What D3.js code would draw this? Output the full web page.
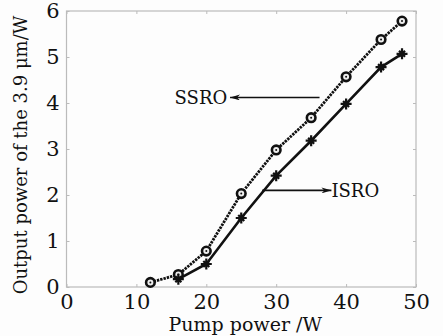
<!DOCTYPE html>
<html>
<head>
<meta charset="utf-8">
<script src="https://cdn.jsdelivr.net/npm/d3@7"></script>
<style>
  body { margin: 0; background: #fdfdfd; }
  text { font-family: "DejaVu Serif", "Liberation Serif", serif; fill: #111; }
</style>
</head>
<body>
<script>
  // data
  var ssroX = [12, 16, 20, 25, 30, 35, 40, 45, 48];
  var ssroY = [0.1, 0.27, 0.78, 2.03, 2.98, 3.68, 4.57, 5.38, 5.78];
  var isroX = [16, 20, 25, 30, 35, 40, 45, 48];
  var isroY = [0.17, 0.5, 1.5, 2.42, 3.18, 3.98, 4.78, 5.07];
  var xTicks = [0, 10, 20, 30, 40, 50];
  var yTicks = [0, 1, 2, 3, 4, 5, 6];

  var width = 443, height = 336,
    pL = 66.5, pR = 416, pT = 11, pB = 287;

  var svg = d3.select('body').append('svg')
    .attr('width', width)
    .attr('height', height);

  var x = d3.scaleLinear().domain([0, 50]).range([pL, pR]);
  var y = d3.scaleLinear().domain([0, 6]).range([pB, pT]);

  // frame
  svg.append('rect')
    .attr('x', pL).attr('y', pT)
    .attr('width', pR - pL).attr('height', pB - pT)
    .attr('fill', 'none').attr('stroke', '#bbb').attr('stroke-width', 1.2);

  // axes, ticks pointing inward
  var gx = svg.append('g')
    .attr('transform', 'translate(0,' + pB + ')')
    .call(d3.axisBottom(x).tickValues(xTicks).tickFormat(d3.format('d')).tickSize(-3).tickPadding(7));
  var gy = svg.append('g')
    .attr('transform', 'translate(' + pL + ',0)')
    .call(d3.axisLeft(y).tickValues(yTicks).tickFormat(d3.format('d')).tickSize(-3).tickPadding(7));
  [gx, gy].forEach(function (g) {
    g.select('.domain').remove();
    g.selectAll('line').attr('stroke', '#bbb');
    g.selectAll('text').attr('font-size', 21).attr('font-family', null);
  });
  // mirror ticks on top and right
  svg.append('g').attr('transform', 'translate(0,' + pT + ')')
    .call(d3.axisTop(x).tickValues(xTicks).tickSize(-3).tickFormat(''))
    .call(g => { g.select('.domain').remove(); g.selectAll('line').attr('stroke', '#bbb'); });
  svg.append('g').attr('transform', 'translate(' + pR + ',0)')
    .call(d3.axisRight(y).tickValues(yTicks).tickSize(-3).tickFormat(''))
    .call(g => { g.select('.domain').remove(); g.selectAll('line').attr('stroke', '#bbb'); });

  var line = d3.line().x(d => x(d[0])).y(d => y(d[1]));
  var ssro = ssroX.map((v, i) => [v, ssroY[i]]);
  var isro = isroX.map((v, i) => [v, isroY[i]]);

  svg.append('path').datum(ssro).attr('d', line)
    .attr('fill', 'none').attr('stroke', '#111')
    .attr('stroke-width', 2.8).attr('stroke-dasharray', '2.4,1');
  svg.append('path').datum(isro).attr('d', line)
    .attr('fill', 'none').attr('stroke', '#111').attr('stroke-width', 2.6);

  // circle markers with centre dot
  var cm = svg.append('g').selectAll('g').data(ssro).join('g')
    .attr('transform', d => 'translate(' + x(d[0]) + ',' + y(d[1]) + ')');
  cm.append('circle').attr('r', 4.3).attr('fill', '#eee')
    .attr('stroke', '#111').attr('stroke-width', 2.6);
  cm.append('circle').attr('r', 1).attr('fill', '#111');

  // star markers
  svg.append('g').selectAll('path').data(isro).join('path')
    .attr('transform', d => 'translate(' + x(d[0]) + ',' + y(d[1]) + ')')
    .attr('d', 'M-5.5,0H5.5M0,-5.5V5.5M-3,-3L3,3M-3,3L3,-3')
    .attr('stroke', '#111').attr('stroke-width', 2.2);

  // annotations
  var defs = svg.append('defs');
  defs.append('marker').attr('id', 'ah')
    .attr('viewBox', '0 0 10 6').attr('refX', 10).attr('refY', 3)
    .attr('markerWidth', 10).attr('markerHeight', 6)
    .attr('markerUnits', 'userSpaceOnUse').attr('orient', 'auto')
    .append('path').attr('d', 'M0,0L10,3L0,6L3,3Z').attr('fill', '#111');

  svg.append('line')
    .attr('x1', x(36.2)).attr('y1', y(4.12))
    .attr('x2', x(23.4)).attr('y2', y(4.12))
    .attr('stroke', '#111').attr('stroke-width', 1.6).attr('marker-end', 'url(#ah)');
  svg.append('text').attr('x', x(23)).attr('y', y(4.12) + 7)
    .attr('text-anchor', 'end').attr('font-size', 18).text('SSRO');

  svg.append('line')
    .attr('x1', x(28)).attr('y1', y(2.1))
    .attr('x2', x(37.9)).attr('y2', y(2.1))
    .attr('stroke', '#111').attr('stroke-width', 1.6).attr('marker-end', 'url(#ah)');
  svg.append('text').attr('x', x(37.9)).attr('y', y(2.1) + 7)
    .attr('font-size', 18).text('ISRO');

  // axis titles
  svg.append('text').attr('x', (pL + pR) / 2 + 4).attr('y', 331)
    .attr('text-anchor', 'middle').attr('font-size', 19).text('Pump power /W');
  svg.append('text')
    .attr('transform', 'translate(27,' + ((pT + pB) / 2 + 6) + ') rotate(-90)')
    .attr('text-anchor', 'middle').attr('font-size', 18).text('Output power of the 3.9 μm/W');
</script>
</body>
</html>
